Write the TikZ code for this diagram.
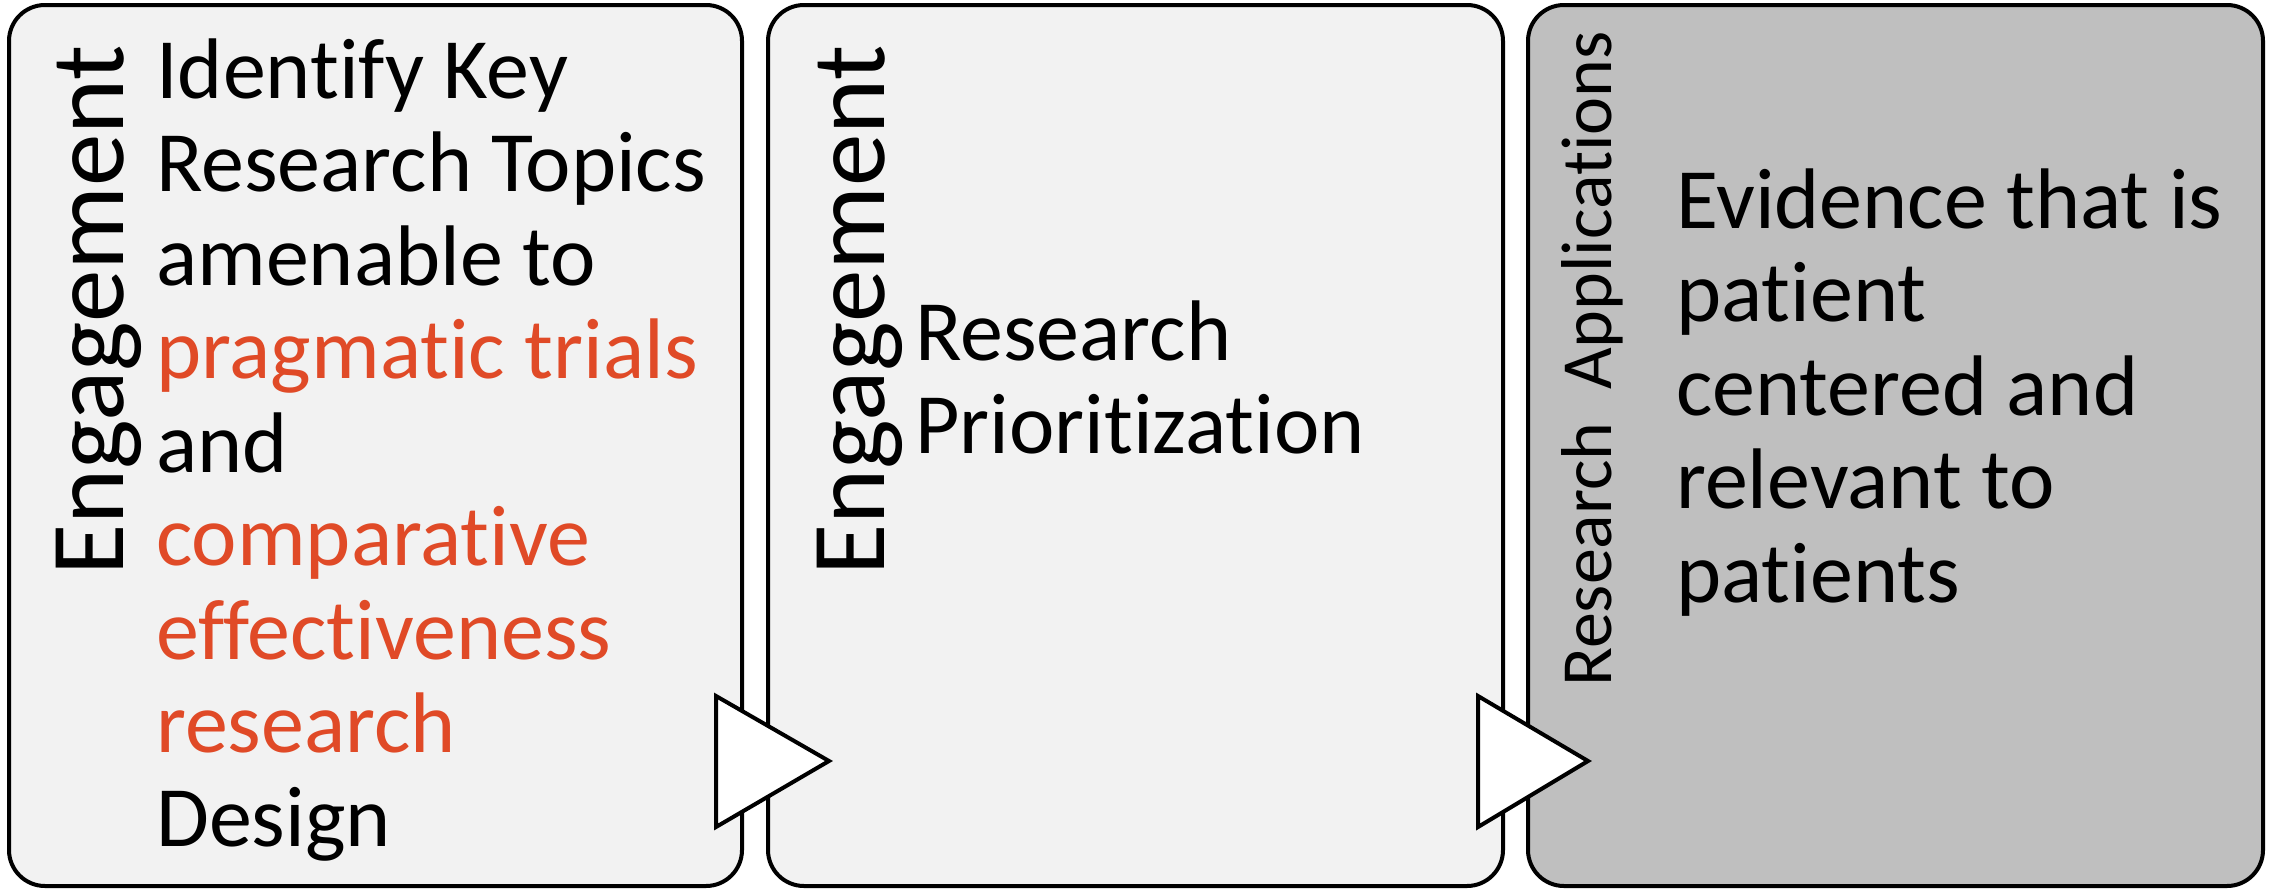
\documentclass[tikz,border=0pt]{standalone}
\usepackage{fontspec}
\setmainfont{Carlito}[Ligatures={NoCommon,NoContextual},RawFeature={-liga;-clig;-calt}]
\definecolor{boxlight}{HTML}{F2F2F2}
\definecolor{boxdark}{HTML}{BFBFBF}
\definecolor{accentred}{HTML}{E04A27}
\newcommand\bodysize{\fontsize{86}{93.5}\selectfont}
\newcommand\sidesize{\fontsize{105}{110}\selectfont}
\newcommand\smallsidesize{\fontsize{72}{80}\selectfont}
\begin{document}
\begin{tikzpicture}[x=1pt,y=-1pt,
  panel/.style={draw=black, line width=4pt, rounded corners=36pt},
  chevron/.style={draw=black, fill=white, line width=4pt, line join=miter},
  sidelabel/.style={rotate=90, anchor=base west, inner sep=0pt},
  bodytext/.style={anchor=base west, inner sep=0pt, font=\bodysize}]
\useasboundingbox (0,0) rectangle (2280,894);
% panels
\draw[panel, fill=boxlight] (9,5) rectangle (742,886);
\draw[panel, fill=boxlight] (768,5) rectangle (1503,886);
\draw[panel, fill=boxdark] (1528,5) rectangle (2263,886);
% panel 1
\node[sidelabel, font=\sidesize] (eng1) at (123,576) {Engagement};
\node[bodytext] (txt1) at (156,98) {\begin{tabular}[t]{@{}l@{}}
Identify Key\\
Research Topics\\
amenable to\\
\textcolor{accentred}{pragmatic trials}\\
and\\
\textcolor{accentred}{comparative}\\
\textcolor{accentred}{effectiveness}\\
\textcolor{accentred}{research}\\
Design
\end{tabular}};
% panel 2
\node[sidelabel, font=\sidesize] (eng2) at (884,576) {Engagement};
\node[bodytext] (txt2) at (915,360) {\begin{tabular}[t]{@{}l@{}}
Research\\
Prioritization
\end{tabular}};
% panel 3
\node[sidelabel, font=\smallsidesize] (app3) at (1611,687) {Research\hspace{0.45em}Applications};
\node[bodytext] (txt3) at (1676,228) {\begin{tabular}[t]{@{}l@{}}
Evidence that is\\
patient\\
centered and\\
relevant to\\
patients
\end{tabular}};
% chevrons
\coordinate (a1t) at (716,696);
\coordinate (a1b) at (716,827);
\coordinate (a1p) at (829,761);
\draw[chevron] (a1t) -- (a1p) -- (a1b) -- cycle;
\coordinate (a2t) at (1478,696);
\coordinate (a2b) at (1478,827);
\coordinate (a2p) at (1588,761);
\draw[chevron] (a2t) -- (a2p) -- (a2b) -- cycle;
\end{tikzpicture}
\end{document}
